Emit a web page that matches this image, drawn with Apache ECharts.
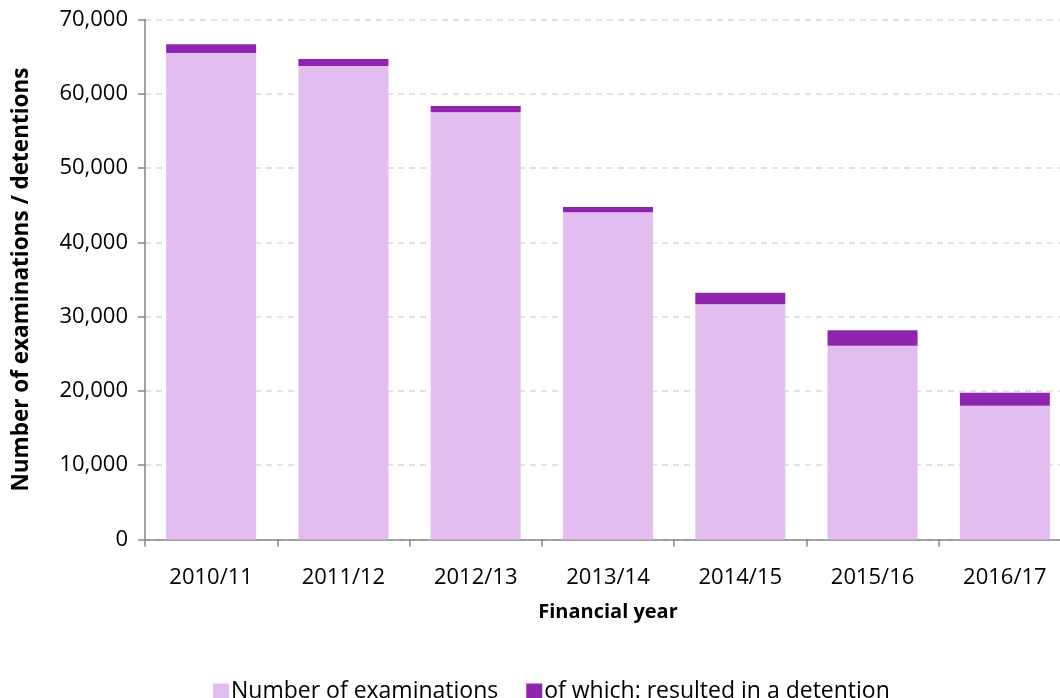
<!DOCTYPE html>
<html>
<head>
<meta charset="utf-8">
<script src="https://cdn.jsdelivr.net/npm/echarts@6/dist/echarts.min.js"></script>
<style>
  html, body { margin: 0; padding: 0; background: #fff; overflow: hidden; }
  /* 比窗口宽11px, 右边最后一格被裁掉 */
  #chart { width: 1071px; height: 698px; }
</style>
</head>
<body>
<div id="chart"></div>
<script>
//财年 x轴
var categories = ['2010/11', '2011/12', '2012/13', '2013/14', '2014/15', '2015/16', '2016/17'];
//检查数 (浅色部分)
var examinations = [65490, 63740, 57510, 44050, 31660, 26090, 18010];
//其中拘留 (深色部分, 叠在上面)
var detentions = [1170, 940, 850, 710, 1560, 2070, 1750];
//y轴刻度
var yTicks = [0, 10000, 20000, 30000, 40000, 50000, 60000, 70000];

var font = '"Open Sans", "Noto Sans", sans-serif';
var myChart = echarts.init(document.getElementById('chart'));
var option = {
  animation: false,
  textStyle: { fontFamily: font, color: '#000' },
  grid: {
    left: 145,
    right: 0,
    top: 19.5,
    bottom: 158.5,
    containLabel: false
  },
  legend: {
    left: 208,
    top: 675,
    itemWidth: 16,
    itemHeight: 16,
    itemGap: 28,
    icon: 'rect',
    textStyle: { fontFamily: font, fontSize: 23, color: '#000', padding: [0, 0, 0, -3] },
    data: ['Number of examinations', 'of which: resulted in a detention']
  },
  xAxis: {
    type: 'category',
    data: categories,
    name: 'Financial year',
    nameLocation: 'middle',
    nameGap: 63,
    nameTextStyle: { fontFamily: font, fontSize: 20, fontWeight: 'bold', color: '#000' },
    axisLine: { lineStyle: { color: '#868686', width: 1.5 } },
    axisTick: { show: true, length: 7, lineStyle: { color: '#868686', width: 1.5 } },
    axisLabel: { fontFamily: font, fontSize: 22, color: '#000', margin: 27 }
  },
  yAxis: {
    type: 'value',
    min: yTicks[0],
    max: yTicks[yTicks.length - 1],
    interval: yTicks[1] - yTicks[0],
    name: 'Number of examinations / detentions',
    nameLocation: 'middle',
    nameGap: 112,
    nameTextStyle: { fontFamily: font, fontSize: 22.5, fontWeight: 'bold', color: '#000' },
    axisLine: { show: true, lineStyle: { color: '#868686', width: 1.5 } },
    axisTick: { show: true, length: 7, lineStyle: { color: '#868686', width: 1.5 } },
    axisLabel: {
      fontFamily: font, fontSize: 22, color: '#000', margin: 17,
      formatter: function (v) { return v.toLocaleString('en-US'); }
    },
    splitLine: { show: true, lineStyle: { color: '#d9d9d9', width: 1.5, type: [6, 5] } }
  },
  series: [
    {
      name: 'Number of examinations',
      type: 'bar',
      stack: 'total',
      barWidth: 90,
      itemStyle: { color: '#e3bdf0' },
      data: examinations
    },
    {
      name: 'of which: resulted in a detention',
      type: 'bar',
      stack: 'total',
      barWidth: 90,
      itemStyle: { color: '#8f24ae' },
      data: detentions
    }
  ]
};
myChart.setOption(option);
</script>
</body>
</html>
